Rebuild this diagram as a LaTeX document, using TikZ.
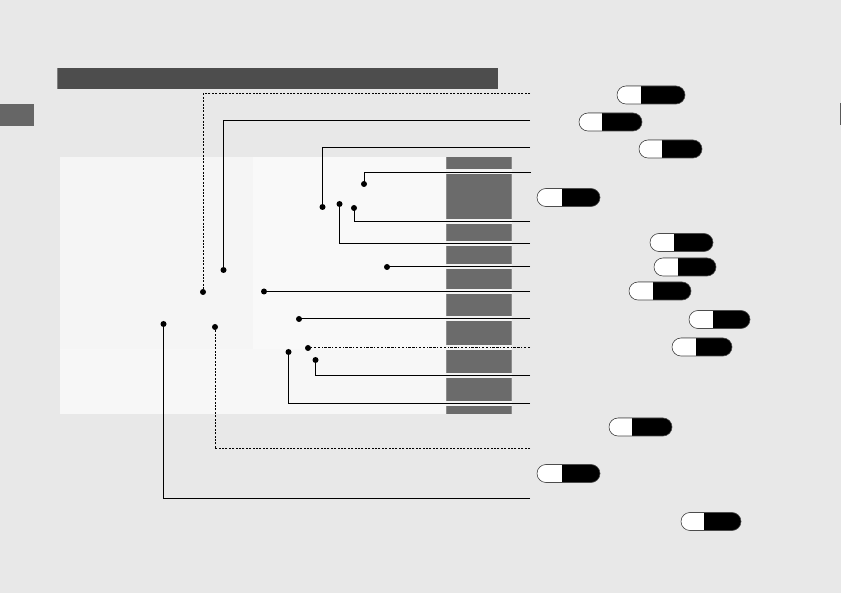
\documentclass[tikz,border=0pt]{standalone}
\usetikzlibrary{shapes.misc}
\definecolor{bg}{HTML}{E8E8E8}
\definecolor{panelA}{HTML}{F5F5F5}
\definecolor{panelB}{HTML}{F9F9F9}
\definecolor{panelC}{HTML}{F7F7F7}
\definecolor{barfill}{HTML}{6B6B6B}
\definecolor{baredge}{HTML}{8C8C8C}
\definecolor{headfill}{HTML}{4D4D4D}
\definecolor{tabfill}{HTML}{666666}
\definecolor{halo}{HTML}{F2F2F2}
\tikzset{
  dot/.style={circle,fill=black,inner sep=0pt,minimum size=6pt},
  leader/.style={line width=1pt,black},
  dotted leader/.style={line width=1pt,black,dash pattern=on 2pt off 1.4pt},
  dashdot leader/.style={line width=1pt,black,dash pattern=on 2.5pt off 1.5pt on 2.5pt off 1.5pt on 1pt off 1.5pt},
  haloline/.style={line width=5pt,halo},
  pill/.style 2 args={rounded rectangle,draw=black!70,line width=0.6pt,fill=black,
    minimum width=#1,minimum height=18pt,inner sep=0pt,
    path picture={\fill[white] (path picture bounding box.north west) rectangle ([xshift=#2]path picture bounding box.south west);}}
}
\begin{document}
\begin{tikzpicture}[x=1pt,y=-1pt]
\useasboundingbox (0,0) rectangle (841,593);
\fill[bg] (0,0) rectangle (841,593);
% header and tabs
\fill[headfill] (57,68) rectangle (498,89);
\fill[black!50] (57,68) rectangle (58,89);
\fill[tabfill] (0,104) rectangle (34,126);
\fill[black!65] (839.5,103) rectangle (841,125);
% panel
\fill[panelA] (60,157) rectangle (446,414);
\fill[panelC] (60,349) rectangle (446,414);
\fill[panelB] (253,157) rectangle (446,349);
% bar
\fill[baredge] (446,157) rectangle (512,414);
\fill[barfill] (447,157) rectangle (511,414);
\foreach \yy in {172,222,243.5,267,291.5,319,348,375.5,403.5}
  \draw[haloline] (446,\yy) -- (512,\yy);
% dots
\node[dot] (d1) at (203,292) {};
\node[dot] (d2) at (223.5,270) {};
\node[dot] (d3) at (322.5,207) {};
\node[dot] (d4) at (364,184) {};
\node[dot] (d5) at (354,208) {};
\node[dot] (d6) at (339.5,204) {};
\node[dot] (d7) at (387,267) {};
\node[dot] (d8) at (264,291.5) {};
\node[dot] (d9) at (299,319) {};
\node[dot] (d10) at (308,348) {};
\node[dot] (d11) at (315.5,360) {};
\node[dot] (d12) at (288.5,352) {};
\node[dot] (d13) at (215,327) {};
\node[dot] (d14) at (163.5,324) {};
% leader ends
\coordinate (e1) at (530,94);
\coordinate (e2) at (530,121);
\coordinate (e3) at (530,148);
\coordinate (e4) at (531,172.5);
\coordinate (e5) at (530,222);
\coordinate (e6) at (530,243.5);
\coordinate (e7) at (530,267);
\coordinate (e8) at (530,291.5);
\coordinate (e9) at (530,319);
\coordinate (e10) at (530,348);
\coordinate (e11) at (530,375.5);
\coordinate (e12) at (530,403.5);
\coordinate (e13) at (530,449);
\coordinate (e14) at (530,498);
% leaders
\draw[dotted leader] (e1) -| (d1.center);
\draw[leader] (e2) -| (d2.center);
\draw[leader] (e3) -| (d3.center);
\draw[leader] (e4) -| (d4.center);
\draw[leader] (e5) -| (d5.center);
\draw[leader] (e6) -| (d6.center);
\draw[leader] (e7) -- (d7.center);
\draw[leader] (e8) -- (d8.center);
\draw[leader] (e9) -- (d9.center);
\draw[dashdot leader] (e10) -- (d10.center);
\draw[leader] (e11) -| (d11.center);
\draw[leader] (e12) -| (d12.center);
\draw[dotted leader] (e13) -| (d13.center);
\draw[leader] (e14) -| (d14.center);
% pills
\node[pill={68pt}{24pt}] (p1) at (651,95) {};
\node[pill={63pt}{23pt}] (p2) at (610.5,122) {};
\node[pill={63pt}{23pt}] (p3) at (670.5,149) {};
\node[pill={63pt}{25pt}] (p4) at (568.5,197.5) {};
\node[pill={63pt}{24pt}] (p5) at (681.5,242.5) {};
\node[pill={62pt}{24pt}] (p6) at (685,267) {};
\node[pill={62pt}{24pt}] (p7) at (660,291) {};
\node[pill={61pt}{24pt}] (p8) at (719.5,319.5) {};
\node[pill={60pt}{24pt}] (p9) at (702,347) {};
\node[pill={63pt}{23pt}] (p10) at (640.5,427) {};
\node[pill={63pt}{25pt}] (p11) at (568.5,473.5) {};
\node[pill={60pt}{23pt}] (p12) at (711,521.5) {};
\end{tikzpicture}
\end{document}
